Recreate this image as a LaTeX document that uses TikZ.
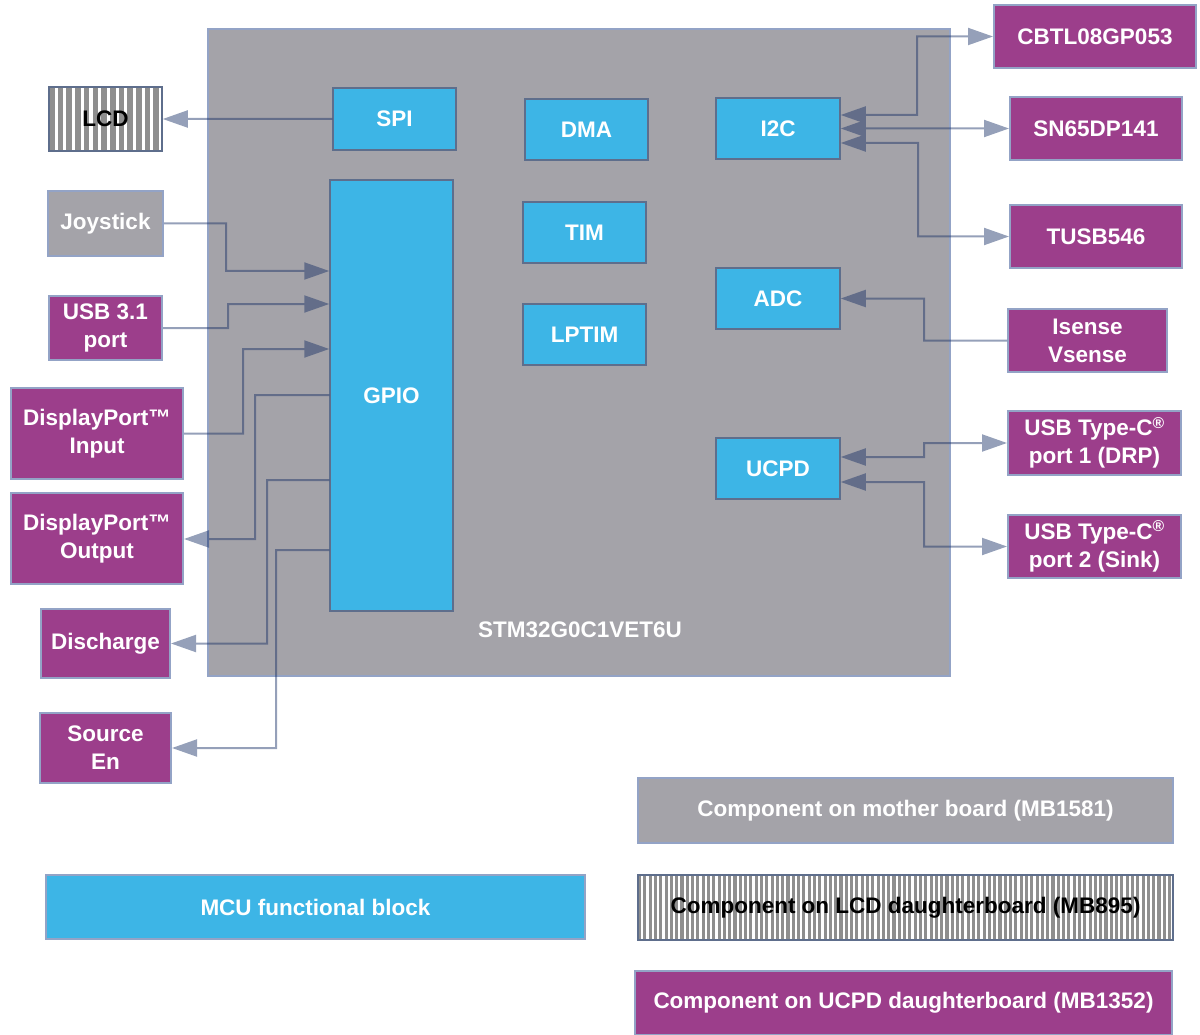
\documentclass[tikz,border=0pt]{standalone}
\usepackage{fontspec}
\setmainfont{Liberation Sans}
\usetikzlibrary{arrows.meta}
\definecolor{mcublue}{HTML}{3DB5E6}
\definecolor{ucpdpurple}{HTML}{9C3E8B}
\definecolor{mbgray}{HTML}{A4A3A9}
\definecolor{edgeblue}{HTML}{93A3C6}
\definecolor{blkedge}{HTML}{5E6E8C}
\definecolor{linecol}{RGB}{20,45,100}
\definecolor{stripe}{HTML}{8E8E8E}
\begin{document}
\begin{tikzpicture}[x=1pt,y=-1pt,
  txt/.style={font=\fontsize{22.5}{28}\selectfont\bfseries, text=white, align=center, inner sep=0pt},
  mcu/.style={txt, fill=mcublue, draw=blkedge, line width=1.5pt},
  ucpd/.style={txt, fill=ucpdpurple, draw=edgeblue, line width=2pt},
  mb/.style={txt, fill=mbgray, draw=edgeblue, line width=2pt},
  striped/.style n args={3}{path picture={
      \foreach \k in {0,...,#1}
        \fill[stripe] ([xshift=\k*#2]path picture bounding box.north west) rectangle ++(#3,80);}},
  lcdbox/.style={txt, text=black, draw=blkedge, line width=1.5pt, fill=white, striped={13}{8.7pt}{5.6}},
  lcdleg/.style={txt, text=black, draw=blkedge, line width=1.5pt, fill=white, striped={102}{5.3pt}{3.1}},
  conn/.style={draw=linecol, line width=2pt},
  tip/.style={-{Triangle[length=25pt,width=17pt]}},
  tips/.style={{Triangle[length=25pt,width=17pt]}-{Triangle[length=25pt,width=17pt]}}
]
\useasboundingbox (0,0) rectangle (1200,1035);
% main MCU area
\node[fill=mbgray, draw=edgeblue, line width=2pt, minimum width=742, minimum height=647, inner sep=0pt] (mcuarea) at (579,352.5) {};
\node[txt] (stm) at (580,630) {STM32G0C1VET6U};
% functional blocks
\node[mcu, minimum width=123, minimum height=62] (spi) at (394.5,119) {SPI};
\node[mcu, minimum width=123, minimum height=61] (dma) at (586.5,129.5) {DMA};
\node[mcu, minimum width=124, minimum height=61] (i2c) at (778,128.5) {I2C};
\node[mcu, minimum width=123, minimum height=61] (tim) at (584.5,232.5) {TIM};
\node[mcu, minimum width=123, minimum height=61] (lptim) at (584.5,334.5) {LPTIM};
\node[mcu, minimum width=124, minimum height=61] (adc) at (778,298.5) {ADC};
\node[mcu, minimum width=124, minimum height=61] (ucpdb) at (778,468.5) {UCPD};
\node[mcu, minimum width=123, minimum height=431] (gpio) at (391.5,395.5) {GPIO};
% left components
\node[lcdbox, minimum width=113, minimum height=64] (lcd) at (105.5,119) {LCD};
\node[mb, minimum width=115, minimum height=65] (joy) at (105.5,223.5) {Joystick};
\node[ucpd, minimum width=113, minimum height=64] (usb) at (105.5,328) {USB 3.1\\port};
\node[ucpd, minimum width=172, minimum height=91] (dpin) at (97,433.5) {DisplayPort™\\Input};
\node[ucpd, minimum width=172, minimum height=91] (dpout) at (97,538.5) {DisplayPort™\\Output};
\node[ucpd, minimum width=129, minimum height=69] (dis) at (105.5,643.5) {Discharge};
\node[ucpd, minimum width=131, minimum height=70] (src) at (105.5,748) {Source\\En};
% right components
\node[ucpd, minimum width=202, minimum height=63] (cbtl) at (1095,36.5) {CBTL08GP053};
\node[ucpd, minimum width=172, minimum height=63] (sn) at (1096,128.5) {SN65DP141};
\node[ucpd, minimum width=172, minimum height=63] (tusb) at (1096,236.5) {TUSB546};
\node[ucpd, minimum width=159, minimum height=63] (isense) at (1087.5,340.5) {Isense\\Vsense};
\node[ucpd, minimum width=173, minimum height=64] (p1) at (1094.5,443) {USB Type-C\textsuperscript{®}\\port 1 (DRP)};
\node[ucpd, minimum width=173, minimum height=63] (p2) at (1094.5,546.5) {USB Type-C\textsuperscript{®}\\port 2 (Sink)};
% legend
\node[mb, minimum width=535, minimum height=65] (legmb) at (905.5,810.5) {Component on mother board (MB1581)};
\node[lcdleg, minimum width=535, minimum height=65] (leglcd) at (905.5,907.5) {Component on LCD daughterboard (MB895)};
\node[ucpd, minimum width=537, minimum height=64] (legucpd) at (903.5,1003) {Component on UCPD daughterboard (MB1352)};
\node[mcu, draw=edgeblue, line width=2pt, minimum width=539, minimum height=64] (legmcu) at (315.5,907) {MCU functional block};
% connectors (one transparency group so that tips and lines do not double up)
\begin{scope}[transparency group, opacity=0.45]
\draw[conn,tip] (spi.west) -- (lcd.east);
\draw[conn,tip] (joy.east) -| (226,271) -- (gpio.west|-0,271);
\draw[conn,tip] (usb.east) -| (228,304) -- (gpio.west|-0,304);
\draw[conn,tip] (dpin.east) -| (243,349) -- (gpio.west|-0,349);
\draw[conn,tip] (gpio.west|-0,395) -| (255,539) -- (dpout.east|-0,539);
\draw[conn,tip] (gpio.west|-0,480) -| (267,643.5) -- (dis.east);
\draw[conn,tip] (gpio.west|-0,550) -| (276,748) -- (src.east);
\draw[conn,tips] (i2c.east|-0,115) -| (917,36.5) -- (cbtl.west);
\draw[conn,tips] (i2c.east|-0,128.5) -- (sn.west);
\draw[conn,tips] (i2c.east|-0,143) -| (918,236.5) -- (tusb.west);
\draw[conn,tip] (isense.west) -| (924,298.5) -- (adc.east);
\draw[conn,tips] (ucpdb.east|-0,457) -| (924,443) -- (p1.west);
\draw[conn,tips] (ucpdb.east|-0,482) -| (924,546.5) -- (p2.west);
\end{scope}
\end{tikzpicture}
\end{document}
